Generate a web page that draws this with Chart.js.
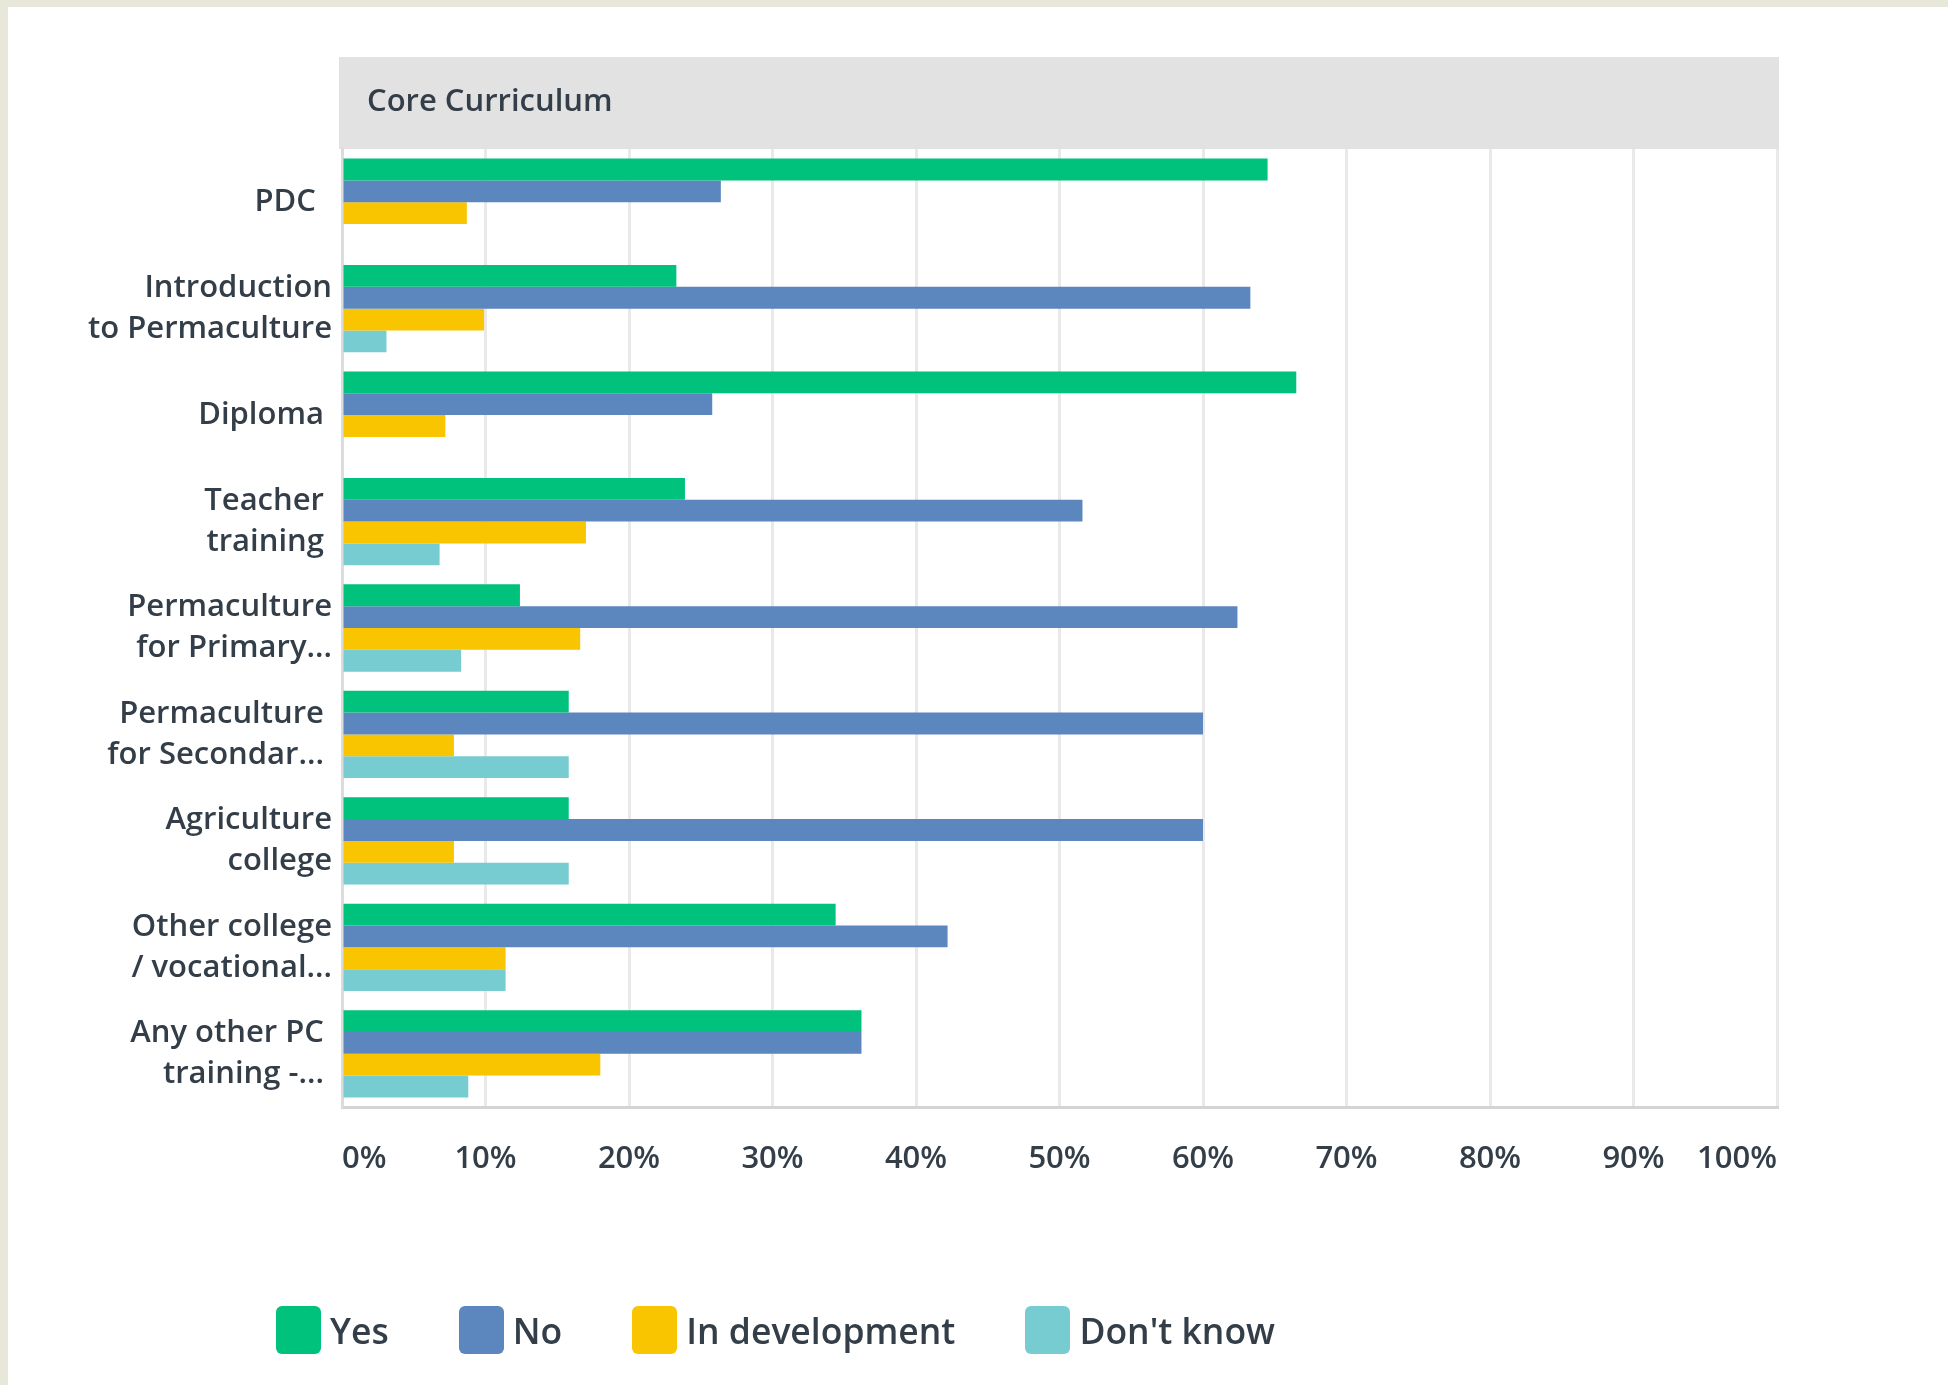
<!DOCTYPE html>
<html>
<head>
<meta charset="utf-8">
<script src="https://cdn.jsdelivr.net/npm/chart.js"></script>
<style>
  html, body { margin: 0; padding: 0; }
  body { width: 1948px; height: 1385px; background: #e7e7da; position: relative; overflow: hidden; font-family: "Open Sans", Roboto, sans-serif; }
  .panel { position: absolute; left: 8px; top: 7px; right: 0; bottom: 0; background: #fff; }
  .chart-wrap { position: absolute; left: 0; top: 0; width: 1948px; height: 1385px; }
  #legend { position: absolute; left: 276px; top: 1306px; display: flex; gap: 70px; align-items: center; }
  .leg-item { display: flex; align-items: center; gap: 9px; font-size: 35.5px; font-weight: 600; color: #333e48; }
  .leg-box { width: 45px; height: 48px; border-radius: 6px; }
</style>
</head>
<body>
<div class="panel"></div>
<div class="chart-wrap"><canvas id="chart"></canvas></div>
<div id="legend"></div>

<script>
const categories = [
    ['PDC  '],
    ['Introduction', 'to Permaculture'],
    ['Diploma '],
    ['Teacher ', 'training '],
    ['Permaculture', 'for Primary...'],
    ['Permaculture ', 'for Secondar... '],
    ['Agriculture', 'college'],
    ['Other college', '/ vocational...'],
    ['Any other PC ', 'training -... ']
];

const yesValues      = [64.5, 23.3, 66.5, 23.9, 12.4, 15.8, 15.8, 34.4, 36.2];
const noValues       = [26.4, 63.3, 25.8, 51.6, 62.4, 60.0, 60.0, 42.2, 36.2];
const inDevValues    = [8.7, 9.9, 7.2, 17.0, 16.6, 7.8, 7.8, 11.4, 18.0];
const dontKnowValues = [0, 3.1, 0, 6.8, 8.3, 15.8, 15.8, 11.4, 8.8];

const seriesNames = ['Yes', 'No', 'In development', "Don't know"];
const seriesColors = ['#00c27c', '#5b86be', '#f9c400', '#76ccd0'];
const xTicks = [0, 10, 20, 30, 40, 50, 60, 70, 80, 90, 100];

const textColor = '#333e48';
const fontFamily = '"Open Sans", Roboto, sans-serif';
const headerTitle = 'Core Curriculum';

// gray header band above the plot
const headerBand = {
    id: 'headerBand',
    beforeDraw(chart) {
        const { ctx, chartArea } = chart;
        ctx.save();
        ctx.fillStyle = '#e2e2e2';
        ctx.fillRect(chartArea.left - 3, chartArea.top - 92, chartArea.right - chartArea.left + 5, 92);
        ctx.fillStyle = textColor;
        ctx.font = '600 31px ' + fontFamily;
        ctx.textBaseline = 'middle';
        ctx.fillText(headerTitle, chartArea.left + 25, chartArea.top - 47);
        ctx.restore();
    }
};

const datasets = [yesValues, noValues, inDevValues, dontKnowValues].map((vals, i) => ({
    label: seriesNames[i],
    data: vals,
    backgroundColor: seriesColors[i],
    borderWidth: 0,
    barPercentage: 1.0,
    categoryPercentage: 0.82
}));

new Chart(document.getElementById('chart'), {
    type: 'bar',
    data: { labels: categories, datasets: datasets },
    plugins: [headerBand],
    options: {
        indexAxis: 'y',
        responsive: true,
        maintainAspectRatio: false,
        animation: false,
        layout: { padding: { left: 0, top: 149, right: 171, bottom: 188 } },
        plugins: {
            legend: { display: false },
            tooltip: { enabled: false }
        },
        scales: {
            x: {
                min: 0,
                max: 100,
                afterBuildTicks: (scale) => { scale.ticks = xTicks.map(v => ({ value: v })); },
                afterFit: (scale) => { scale.height = 90; },
                grid: { color: '#e9e9e9', lineWidth: 3, drawTicks: false },
                border: { color: '#d4d4d4', width: 3 },
                ticks: {
                    align: 'inner',
                    padding: 34,
                    color: textColor,
                    font: { family: fontFamily, size: 31, weight: '600' },
                    callback: (v) => v + '%'
                }
            },
            y: {
                afterFit: (scale) => { scale.width = 342; },
                grid: { display: false, drawTicks: false },
                border: { color: '#dcdcdc', width: 3 },
                ticks: {
                    padding: 10,
                    color: textColor,
                    font: { family: fontFamily, size: 31, weight: '600', lineHeight: 1.32 }
                }
            }
        }
    }
});

const legendEl = document.getElementById('legend');
seriesNames.forEach((name, i) => {
    const item = document.createElement('div');
    item.className = 'leg-item';
    item.innerHTML = '<span class="leg-box" style="background:' + seriesColors[i] + '"></span><span>' + name + '</span>';
    legendEl.appendChild(item);
});
</script>
</body>
</html>
